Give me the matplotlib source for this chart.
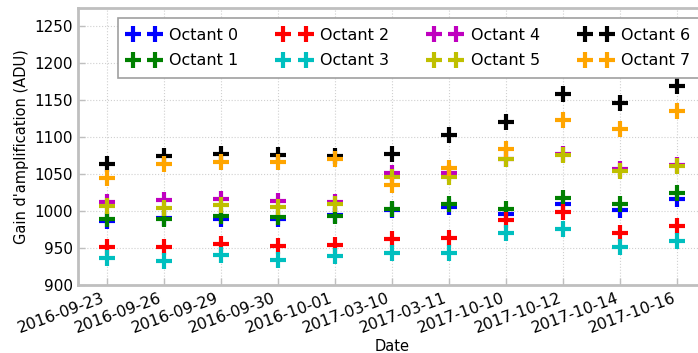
import matplotlib
matplotlib.use("Agg")
import matplotlib.pyplot as plt

dates = ["2016-09-23", "2016-09-26", "2016-09-29", "2016-09-30", "2016-10-01",
         "2017-03-10", "2017-03-11", "2017-10-10", "2017-10-12", "2017-10-14",
         "2017-10-16"]

octant_0 = [987, 991, 990, 989, 995, 1002, 1006, 996, 1009, 1001, 1016]
octant_1 = [990, 989, 993, 992, 993, 1003, 1010, 1003, 1018, 1009, 1024]
octant_2 = [951, 951, 956, 953, 954, 962, 963, 988, 999, 970, 980]
octant_3 = [936, 933, 941, 934, 939, 943, 943, 970, 976, 952, 959]
octant_4 = [1012, 1015, 1016, 1014, 1013, 1051, 1052, 1071, 1078, 1057, 1063]
octant_5 = [1007, 1004, 1008, 1005, 1009, 1046, 1046, 1071, 1076, 1055, 1061]
octant_6 = [1064, 1074, 1077, 1076, 1075, 1077, 1103, 1120, 1158, 1146, 1170]
octant_7 = [1045, 1064, 1066, 1066, 1070, 1036, 1058, 1084, 1123, 1111, 1136]

series = [octant_0, octant_1, octant_2, octant_3,
          octant_4, octant_5, octant_6, octant_7]
labels = ["Octant %d" % i for i in range(8)]
colors = ["#0000ff", "#008000", "#ff0000", "#00bfbf",
          "#bf00bf", "#bfbf00", "#000000", "#ffa500"]

fig = plt.figure(figsize=(6.98, 3.53), dpi=100)
ax = fig.add_axes([78 / 698, 1 - 285 / 353, 628 / 698, 277 / 353])

x = list(range(len(dates)))
for vals, lab, col in zip(series, labels, colors):
    ax.plot(x, vals, linestyle="none", marker="+", markersize=12,
            markeredgewidth=3, color=col, label=lab)

ax.set_xlim(-0.5, len(dates) - 0.5)
ax.set_ylim(900, 1275)
ax.set_yticks(range(900, 1251, 50))
ax.set_xticks(x)
ax.set_xticklabels(dates, rotation=20, ha="right")
ax.tick_params(axis="both", direction="in", color="#bfbfbf", labelsize=11,
               length=5, width=1)
ax.tick_params(axis="x", pad=4, labelsize=11.3)
for sp in ax.spines.values():
    sp.set_color("#bfbfbf")
    sp.set_linewidth(2)
ax.grid(True, linestyle=":", color="#d0d0d0", linewidth=0.8)
ax.set_axisbelow(True)

ax.set_xlabel("Date", fontsize=10.5, labelpad=2)
ax.set_ylabel("Gain d'amplification (ADU)", fontsize=10.5)

leg = fig.legend(loc="upper left", bbox_to_anchor=(118 / 698, 1 - 18 / 353),
                 ncol=4, numpoints=2, fontsize=11.5, fancybox=False,
                 framealpha=1, edgecolor="#a0a0a0", borderaxespad=0,
                 borderpad=0.62, handlelength=2.0, columnspacing=2.5,
                 handletextpad=0.6, labelspacing=0.65)
leg.get_frame().set_linewidth(1.2)

fig.savefig("out.png", dpi=100)
